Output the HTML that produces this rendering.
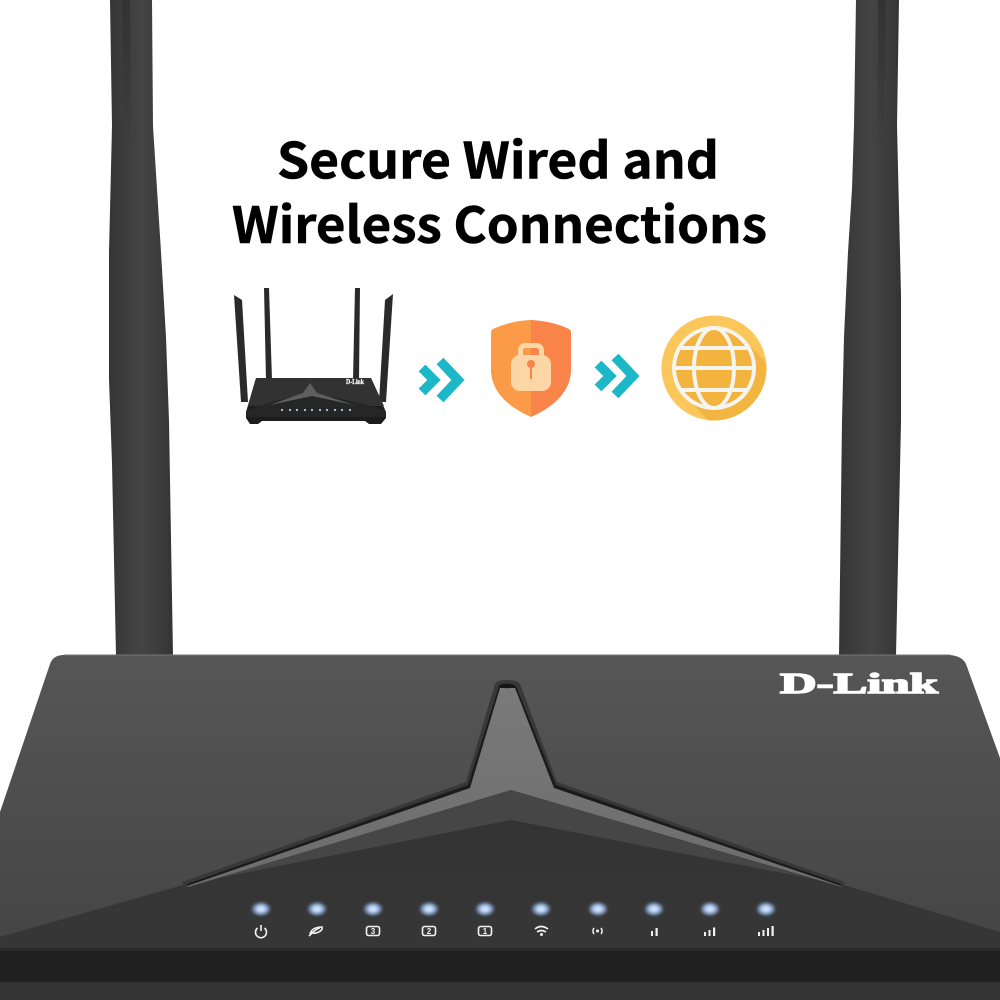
<!DOCTYPE html>
<html>
<head>
<meta charset="utf-8">
<style>
html,body{margin:0;padding:0;background:#fff;}
svg{display:block;}
</style>
</head>
<body>
<svg width="1000" height="1000" viewBox="0 0 1000 1000" xmlns="http://www.w3.org/2000/svg">
<defs>
<linearGradient id="ant1" x1="0" x2="1" y1="0" y2="0">
<stop offset="0" stop-color="#353535"/><stop offset=".25" stop-color="#3d3d3d"/><stop offset=".5" stop-color="#444"/><stop offset=".8" stop-color="#3c3c3c"/><stop offset="1" stop-color="#333"/>
</linearGradient>
<linearGradient id="streak" x1="0" x2="0" y1="0" y2="1">
<stop offset="0" stop-color="#2e2e2e" stop-opacity=".7"/><stop offset="1" stop-color="#2e2e2e" stop-opacity="0"/>
</linearGradient>
<linearGradient id="top" x1="0" x2="0" y1="0" y2="1">
<stop offset="0" stop-color="#565656"/><stop offset=".5" stop-color="#4c4c4c"/><stop offset="1" stop-color="#424242"/>
</linearGradient>
<linearGradient id="face" x1="0" x2="0" y1="0" y2="1">
<stop offset="0" stop-color="#333"/><stop offset="1" stop-color="#383838"/>
</linearGradient>
<linearGradient id="star" x1="0" x2="0" y1="0" y2="1">
<stop offset="0" stop-color="#7a7a7a"/><stop offset="1" stop-color="#6c6c6c"/>
</linearGradient>
<radialGradient id="led">
<stop offset="0" stop-color="#e3eeff"/><stop offset=".35" stop-color="#bcd4f8"/><stop offset=".7" stop-color="#7893bd" stop-opacity=".8"/><stop offset="1" stop-color="#4a5564" stop-opacity="0"/>
</radialGradient>
<clipPath id="globeclip"><circle cx="714" cy="368" r="52.5"/></clipPath>
<filter id="soft" x="-10%" y="-10%" width="120%" height="120%"><feGaussianBlur stdDeviation=".35"/></filter>
<filter id="ledblur" x="-30%" y="-30%" width="160%" height="160%"><feGaussianBlur stdDeviation="1"/></filter>
</defs>

<rect width="1000" height="1000" fill="#fff"/>

<!-- Big antennas -->
<path d="M110 0 L152 0 L153 126 L157 189 L161 252 L166 337 L169 421 L173 656 L116 656 L112 463 L109 379 L109 252 L112 126 Z" fill="url(#ant1)"/>
<path d="M856 0 L899 0 L897 126 L899 210 L901 295 L901 421 L896 656 L839 656 L842 421 L844 337 L848 252 L852 189 L854 126 Z" fill="url(#ant1)"/>
<path d="M122 0 L130 0 L131 150 L125 150 Z" fill="url(#streak)"/>
<path d="M878 0 L886 0 L884 150 L878 150 Z" fill="url(#streak)"/>

<!-- Router top -->
<path d="M0 812 L50 664 Q53 655 64 655 L950 655 Q962 656 966 664 L1000 758 L1000 1000 L0 1000 Z" fill="url(#top)"/>
<path d="M64 655 L950 655" stroke="#777" stroke-width="1" fill="none"/>

<!-- Lower face -->
<path d="M0 937 L183 885 L511 790 L844 885 L1000 932 L1000 1000 L0 1000 Z" fill="#464646"/>
<path d="M0 937 L183 885 L511 820 L844 885 L1000 932 L1000 1000 L0 1000 Z" fill="url(#face)"/>
<rect x="0" y="948" width="1000" height="34" fill="#202020"/>
<rect x="0" y="948" width="1000" height="3" fill="#2b2b2b"/>
<rect x="0" y="982" width="1000" height="18" fill="#333"/>

<!-- Star emblem -->
<path d="M182 882 L466 782 L495 684 Q497 680 507 680 Q517 680 520 684 L557 782 L845 882 L843 888 L511 790 L185 888 Z" fill="#383838"/>
<path d="M187 884 L468 785 L499 686 L516 686 L556 785 L841 884 L842 887 L511 790 L187 887 Z" fill="#1b1b1b"/>
<path d="M187 886 L470 788 L500 688 L515 688 L554 788 L841 886 L842 887 L511 790 L188 887 Z" fill="url(#star)"/>
<ellipse cx="507" cy="686" rx="8" ry="2.2" fill="#151515"/>

<!-- D-Link logo -->
<text x="780" y="693" font-family="'Liberation Serif',serif" font-weight="700" font-size="29" fill="#fff" stroke="#fff" stroke-width="1.400" textLength="158" lengthAdjust="spacingAndGlyphs">D-Link</text>

<!-- LEDs -->
<g fill="url(#led)" filter="url(#ledblur)">
<ellipse cx="261" cy="909" rx="11" ry="8"/><ellipse cx="317" cy="909" rx="11" ry="8"/><ellipse cx="373" cy="909" rx="11" ry="8"/><ellipse cx="429" cy="909" rx="11" ry="8"/><ellipse cx="485" cy="909" rx="11" ry="8"/><ellipse cx="541" cy="909" rx="11" ry="8"/><ellipse cx="598" cy="909" rx="11" ry="8"/><ellipse cx="654" cy="909" rx="11" ry="8"/><ellipse cx="710" cy="909" rx="11" ry="8"/><ellipse cx="766" cy="909" rx="11" ry="8"/>
</g>

<!-- LED icons -->
<g fill="none" stroke="#f2f2f2" stroke-width="1.600">
<path d="M257.500 928 A5.500 5.500 0 1 0 264.500 928"/><path d="M261 925 V931"/>
<path d="M310 934 Q312 927 322 927 Q323 931 316 933 Q312 934 311 931 M309 936 Q317 928 320 928" />
<rect x="366.500" y="926.500" width="13" height="9" rx="2"/>
<rect x="422.500" y="926.500" width="13" height="9" rx="2"/>
<rect x="478.500" y="926.500" width="13" height="9" rx="2"/>
<path d="M535 929 Q541 924 548 929 M537 932 Q541 929 546 932"/>
<path d="M594 928 A5 5 0 0 0 594 934 M601 928 A5 5 0 0 1 601 934"/>
</g>
<circle cx="541.500" cy="934.500" r="1.500" fill="#f2f2f2"/>
<circle cx="597.500" cy="931" r="1.500" fill="#f2f2f2"/>
<g font-family="'Liberation Sans',sans-serif" font-size="8" font-weight="700" fill="#f2f2f2" text-anchor="middle">
<text x="373" y="934">3</text><text x="429" y="934">2</text><text x="485" y="934">1</text>
</g>
<g fill="#f2f2f2">
<rect x="651" y="931" width="2" height="5"/><rect x="655.500" y="928" width="2.200" height="8"/>
<rect x="704" y="932" width="2" height="4"/><rect x="708.500" y="930" width="2" height="6"/><rect x="713" y="927.500" width="2.200" height="8.500"/>
<rect x="758" y="932" width="2" height="4"/><rect x="762.500" y="930" width="2" height="6"/><rect x="767" y="928" width="2" height="8"/><rect x="771.500" y="926" width="2.200" height="10"/>
</g>

<!-- Title -->
<g font-family="'Noto Sans CJK JP','Liberation Sans',sans-serif" font-weight="700" font-size="50" fill="#000" stroke="#000" stroke-width=".6">
<text x="277" y="178.500" textLength="442" lengthAdjust="spacingAndGlyphs">Secure Wired and</text>
<text x="232" y="243" textLength="535" lengthAdjust="spacingAndGlyphs">Wireless Connections</text>
</g>

<!-- Small router -->
<g filter="url(#soft)">
<path d="M234 295 L242 300 L248 402 L241 402 Z" fill="#2b2b2b"/>
<path d="M264 288 L269 288 L272 380 L266 380 Z" fill="#2b2b2b"/>
<path d="M355 288 L360 288 L359 380 L353 380 Z" fill="#2b2b2b"/>
<path d="M393 294 L385 300 L379 402 L386 402 Z" fill="#2b2b2b"/>
<path d="M256 378 L371 378 L386 412 L386 418 L381 424 L369 424 L365 421 L262 421 L258 424 L250 424 L246 418 L246 412 Z" fill="#1f1f1f"/>
<path d="M256 378 L371 378 L384 406 L248 406 Z" fill="#333"/>
<path d="M247 410 L274 401 L312 393 L352 401 L385 410 L385 417 L247 417 Z" fill="#282828"/>
<path d="M270 405 L303 393 L310 383 L317 393 L354 405 L312 396 Z" fill="#5e5e5e"/>
</g>
<text x="346" y="384" font-family="'Liberation Serif',serif" font-weight="700" font-size="7" fill="#fff" stroke="#fff" stroke-width=".2" textLength="18" lengthAdjust="spacingAndGlyphs">D-Link</text>
<g fill="#b9cbe6">
<circle cx="282" cy="410" r="1.100"/><circle cx="290" cy="410" r="1.100"/><circle cx="297" cy="410" r="1.100"/><circle cx="305" cy="410" r="1.100"/><circle cx="312" cy="410" r="1.100"/><circle cx="320" cy="410" r="1.100"/><circle cx="327" cy="410" r="1.100"/><circle cx="335" cy="410" r="1.100"/><circle cx="342" cy="410" r="1.100"/><circle cx="350" cy="410" r="1.100"/>
</g>

<!-- Chevrons -->
<g fill="none" stroke="#1cb8c8" stroke-width="9.500">
<path d="M422 368 L434 380 L422 392"/>
<path d="M440 361 L458 380 L440 399"/>
<path d="M598 364 L610 376 L598 388"/>
<path d="M615 357 L633 376 L615 395"/>
</g>

<!-- Shield -->
<path d="M531 320 Q510 321 493 329 Q491 330 491 333 L491 372 Q493 400 531 417 Z" fill="#fb9b47"/>
<path d="M531 320 Q552 321 569 329 Q571 330 571 333 L571 372 Q569 400 531 417 Z" fill="#f9844a"/>
<path d="M520.500 358 V351 Q520.500 345.500 526 345.500 H536 Q541.500 345.500 541.500 351 V358" fill="none" stroke="#fdd6a5" stroke-width="5"/>
<rect x="511" y="355" width="40" height="36" rx="9" fill="#fdd6a5"/>
<circle cx="531" cy="364" r="4" fill="#f9844a"/>
<rect x="530" y="365" width="2" height="14" fill="#f9844a"/>

<!-- Globe -->
<circle cx="714" cy="368" r="52.500" fill="#fcc75a"/>
<path d="M743 339 L843 439 L785 497 L685 397 Z" fill="#f2b540" clip-path="url(#globeclip)"/>
<circle cx="714" cy="368" r="40" fill="#f2b33f"/>
<g fill="none" stroke="#f7f5ef" stroke-width="4">
<circle cx="714" cy="368" r="40"/>
<ellipse cx="714" cy="368" rx="20" ry="40"/>
<path d="M674 368 H754"/>
<path d="M681 348 H747"/>
<path d="M681 390 H747"/>
</g>
</svg>
</body>
</html>
